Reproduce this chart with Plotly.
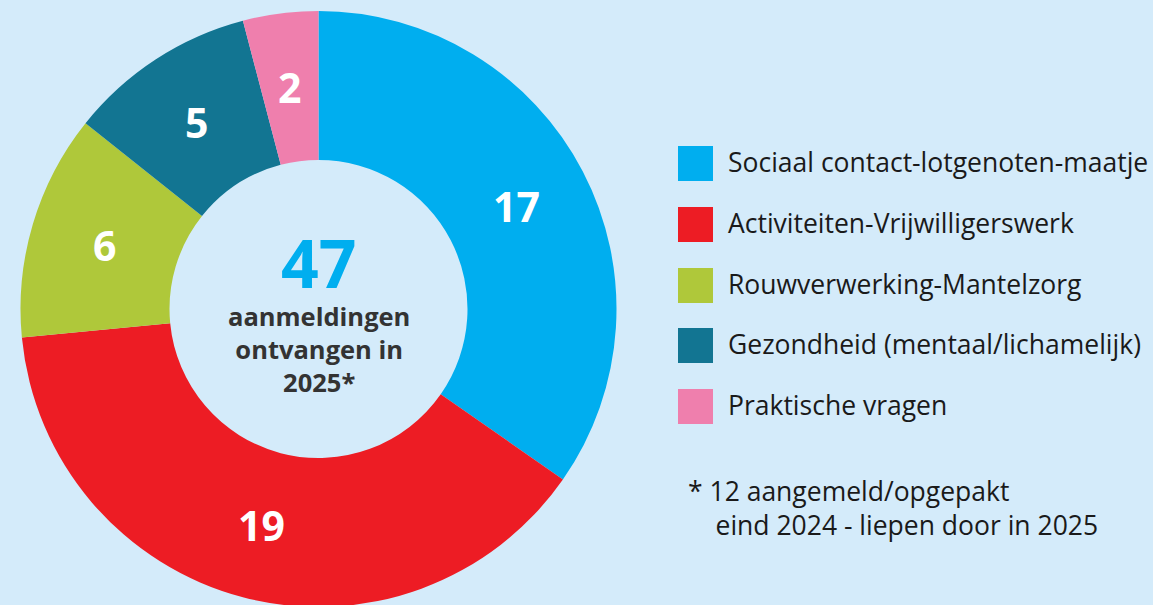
import numpy as np
import plotly.graph_objects as go

categories = ["Sociaal contact-lotgenoten-maatje", "Activiteiten-Vrijwilligerswerk",
              "Rouwverwerking-Mantelzorg", "Gezondheid (mentaal/lichamelijk)", "Praktische vragen"]
values = [17, 19, 6, 5, 2]
colors = ["#00aeef", "#ed1c24", "#afc83a", "#127592", "#ef7fad"]
center_number = "47"
center_text = ["aanmeldingen", "ontvangen in", "2025*"]
footnote = ["* 12 aangemeld/opgepakt", "eind 2024 - liepen door in 2025"]

W, H = 1153, 620
BG = "#d4ebfa"
FONT = "Open Sans"
HOLE = 0.5

cx, cy, r = 318.5, 309, 298  # pixel center from top, radius

def px_x(x):
    return x / W

def px_y(y):
    return 1 - y / H

fig = go.Figure()
fig.add_trace(go.Pie(
    labels=categories, values=values, sort=False, direction="clockwise", rotation=0,
    hole=HOLE, marker=dict(colors=colors, line=dict(width=0)),
    textinfo="none",
    hoverinfo="label+value", showlegend=False,
    domain=dict(x=[(cx - r) / W, (cx + r) / W], y=[(H - cy - r) / H, (H - cy + r) / H]),
))

# value labels placed at the middle of each ring segment (derived from the values)
vals = np.array(values, dtype=float)
ends = np.cumsum(vals) / vals.sum() * 2 * np.pi
starts = ends - vals / vals.sum() * 2 * np.pi
mids = (starts + ends) / 2
rm = r * (1 + HOLE) / 2
for v, a in zip(values, mids):
    x = cx + rm * np.sin(a)
    y = cy - rm * np.cos(a)
    fig.add_annotation(x=px_x(x), y=px_y(y), xref="paper", yref="paper", text=str(v),
                       showarrow=False, xanchor="center", yanchor="middle",
                       font=dict(family=FONT, size=41, color="white", weight="bold"))

# center text
fig.add_annotation(x=px_x(cx), y=px_y(262), xref="paper", yref="paper", text=center_number,
                   showarrow=False, font=dict(family=FONT, size=66, color="#00aeef", weight="bold"),
                   xanchor="center", yanchor="middle")
fig.add_annotation(x=px_x(cx), y=px_y(349), xref="paper", yref="paper",
                   text="<br>".join(center_text), showarrow=False, align="center",
                   font=dict(family=FONT, size=25.5, color="#333333", weight="bold"),
                   xanchor="center", yanchor="middle")

# legend
sq_top = [146, 207, 268, 328, 389]
for cat, col, t in zip(categories, colors, sq_top):
    fig.add_shape(type="rect", xref="paper", yref="paper",
                  x0=px_x(678), x1=px_x(713), y0=px_y(t), y1=px_y(t + 35),
                  fillcolor=col, line=dict(width=0))
    fig.add_annotation(x=px_x(726), y=px_y(t + 16), xref="paper", yref="paper", text=cat,
                       showarrow=False, xanchor="left", yanchor="middle",
                       font=dict(family=FONT, size=26.5, color="#1a1a1a"))

fig.add_annotation(x=px_x(686), y=px_y(508), xref="paper", yref="paper",
                   text=footnote[0] + "<br>" + "\u00a0\u00a0\u00a0\u00a0" + footnote[1],
                   showarrow=False, xanchor="left", yanchor="middle", align="left",
                   font=dict(family=FONT, size=26.5, color="#1a1a1a"))

fig.update_layout(width=W, height=H, margin=dict(l=0, r=0, t=0, b=0),
                  paper_bgcolor=BG, plot_bgcolor=BG)

fig.write_html("out.html", config={"displayModeBar": False},
               post_script="document.body.style.margin='0';document.body.style.overflow='hidden';document.body.style.background='" + BG + "';")
